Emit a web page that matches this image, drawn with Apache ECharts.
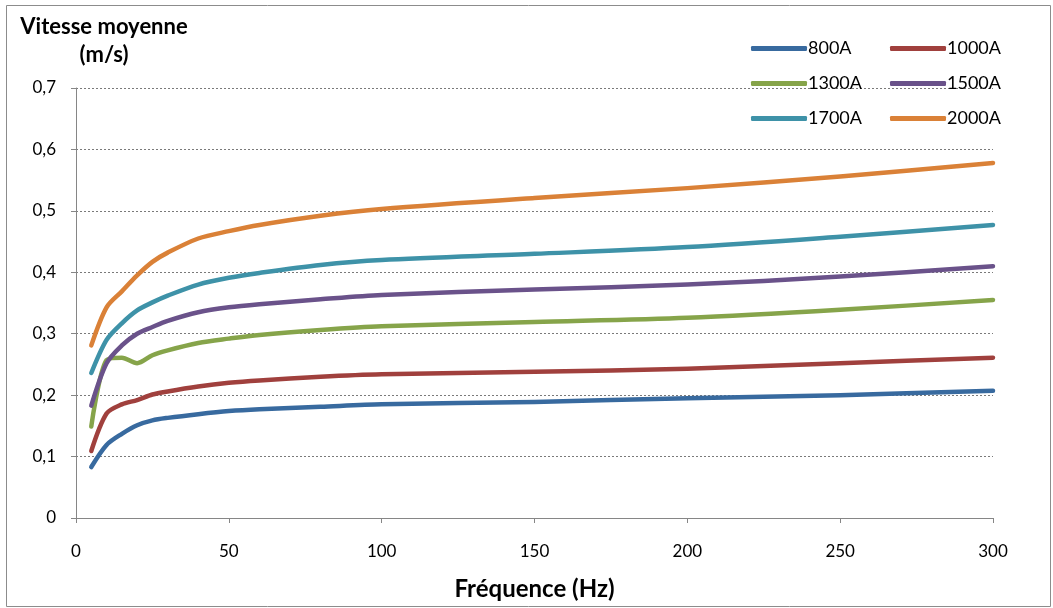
<!DOCTYPE html>
<html>
<head>
<meta charset="utf-8">
<script src="https://cdn.jsdelivr.net/npm/echarts@6/dist/echarts.min.js"></script>
<style>
html,body{margin:0;padding:0;background:#fff;}
#c{width:1053px;height:608px;}
</style>
</head>
<body>
<div id="c"></div>
<script>
const freq = [5, 10, 15, 20, 25, 30, 40, 50, 60, 80, 100, 150, 200, 250, 300];
const seriesNames = ['800A', '1000A', '1300A', '1500A', '1700A', '2000A'];
const v800  = [0.083, 0.119, 0.137, 0.151, 0.159, 0.163, 0.169, 0.174, 0.177, 0.181, 0.185, 0.189, 0.195, 0.200, 0.207];
const v1000 = [0.109, 0.170, 0.185, 0.192, 0.201, 0.206, 0.214, 0.220, 0.224, 0.230, 0.234, 0.238, 0.243, 0.252, 0.261];
const v1300 = [0.149, 0.257, 0.261, 0.252, 0.265, 0.273, 0.285, 0.292, 0.298, 0.306, 0.312, 0.319, 0.326, 0.339, 0.355];
const v1500 = [0.183, 0.252, 0.281, 0.300, 0.311, 0.321, 0.335, 0.343, 0.348, 0.356, 0.363, 0.372, 0.380, 0.393, 0.410];
const v1700 = [0.236, 0.290, 0.317, 0.338, 0.351, 0.362, 0.380, 0.391, 0.399, 0.412, 0.420, 0.430, 0.441, 0.458, 0.477];
const v2000 = [0.281, 0.343, 0.369, 0.395, 0.417, 0.432, 0.455, 0.467, 0.477, 0.492, 0.503, 0.521, 0.537, 0.556, 0.578];
const xTicks = [0, 50, 100, 150, 200, 250, 300];
const yTicks = [0, 0.1, 0.2, 0.3, 0.4, 0.5, 0.6, 0.7];

const allValues = [v800, v1000, v1300, v1500, v1700, v2000];
const colors = ['#386A9F', '#A0403D', '#86A44A', '#6A528A', '#3E92A8', '#DA8137'];
const FONT = 'Lato, "Open Sans", sans-serif';

const chart = echarts.init(document.getElementById('c'), null, {renderer: 'canvas'});
chart.setOption({
  animation: false,
  backgroundColor: '#fff',
  color: colors,
  textStyle: {fontFamily: FONT},
  graphic: [{
    type: 'rect', left: 4, top: 3, silent: true,
    shape: {width: 1044, height: 601},
    style: {fill: 'none', stroke: '#8c8c8c', lineWidth: 1}
  }],
  title: {
    text: 'Vitesse moyenne\n(m/s)',
    left: 99, top: 8, textAlign: 'center',
    textStyle: {fontFamily: FONT, fontSize: 22, fontWeight: 'bold', color: '#000', lineHeight: 28}
  },
  legend: {
    data: seriesNames,
    left: 746, top: 26, width: 290,
    itemWidth: 56, itemHeight: 5, itemGap: 0,
    icon: 'roundRect',
    textStyle: {fontFamily: FONT, fontSize: 18, color: '#000', width: 82, lineHeight: 35, padding: [0,0,0,-4]}
  },
  grid: {left: 76, right: 60, top: 88, bottom: 90, containLabel: false},
  xAxis: {
    type: 'value', min: xTicks[0], max: xTicks[xTicks.length-1], interval: 50,
    name: 'Fréquence (Hz)', nameLocation: 'middle', nameGap: 59,
    nameTextStyle: {fontFamily: FONT, fontSize: 24, fontWeight: 'bold', color: '#000'},
    axisLine: {show: true, lineStyle: {color: '#868686', width: 1}},
    axisTick: {show: true, length: 5, lineStyle: {color: '#868686'}},
    axisLabel: {fontFamily: FONT, fontSize: 17, color: '#000', margin: 25},
    splitLine: {show: false}
  },
  yAxis: {
    type: 'value', min: yTicks[0], max: yTicks[yTicks.length-1], interval: 0.1,
    axisLine: {show: true, lineStyle: {color: '#868686', width: 1}},
    axisTick: {show: true, length: 5, lineStyle: {color: '#868686'}},
    axisLabel: {fontFamily: FONT, fontSize: 17, color: '#000', margin: 20,
      formatter: v => (Math.round(v*10)/10).toString().replace('.', ',')},
    splitLine: {show: true, lineStyle: {color: '#7a7a7a', type: [2, 2], width: 1}}
  },
  series: seriesNames.map((n, i) => ({
    name: n, type: 'line', smooth: 0.3, showSymbol: false, symbol: 'none',
    data: freq.map((f, j) => [f, allValues[i][j]]),
    lineStyle: {width: 4.5, color: colors[i], cap: 'round', join: 'round'},
    itemStyle: {color: colors[i]}
  }))
});
</script>
</body>
</html>
